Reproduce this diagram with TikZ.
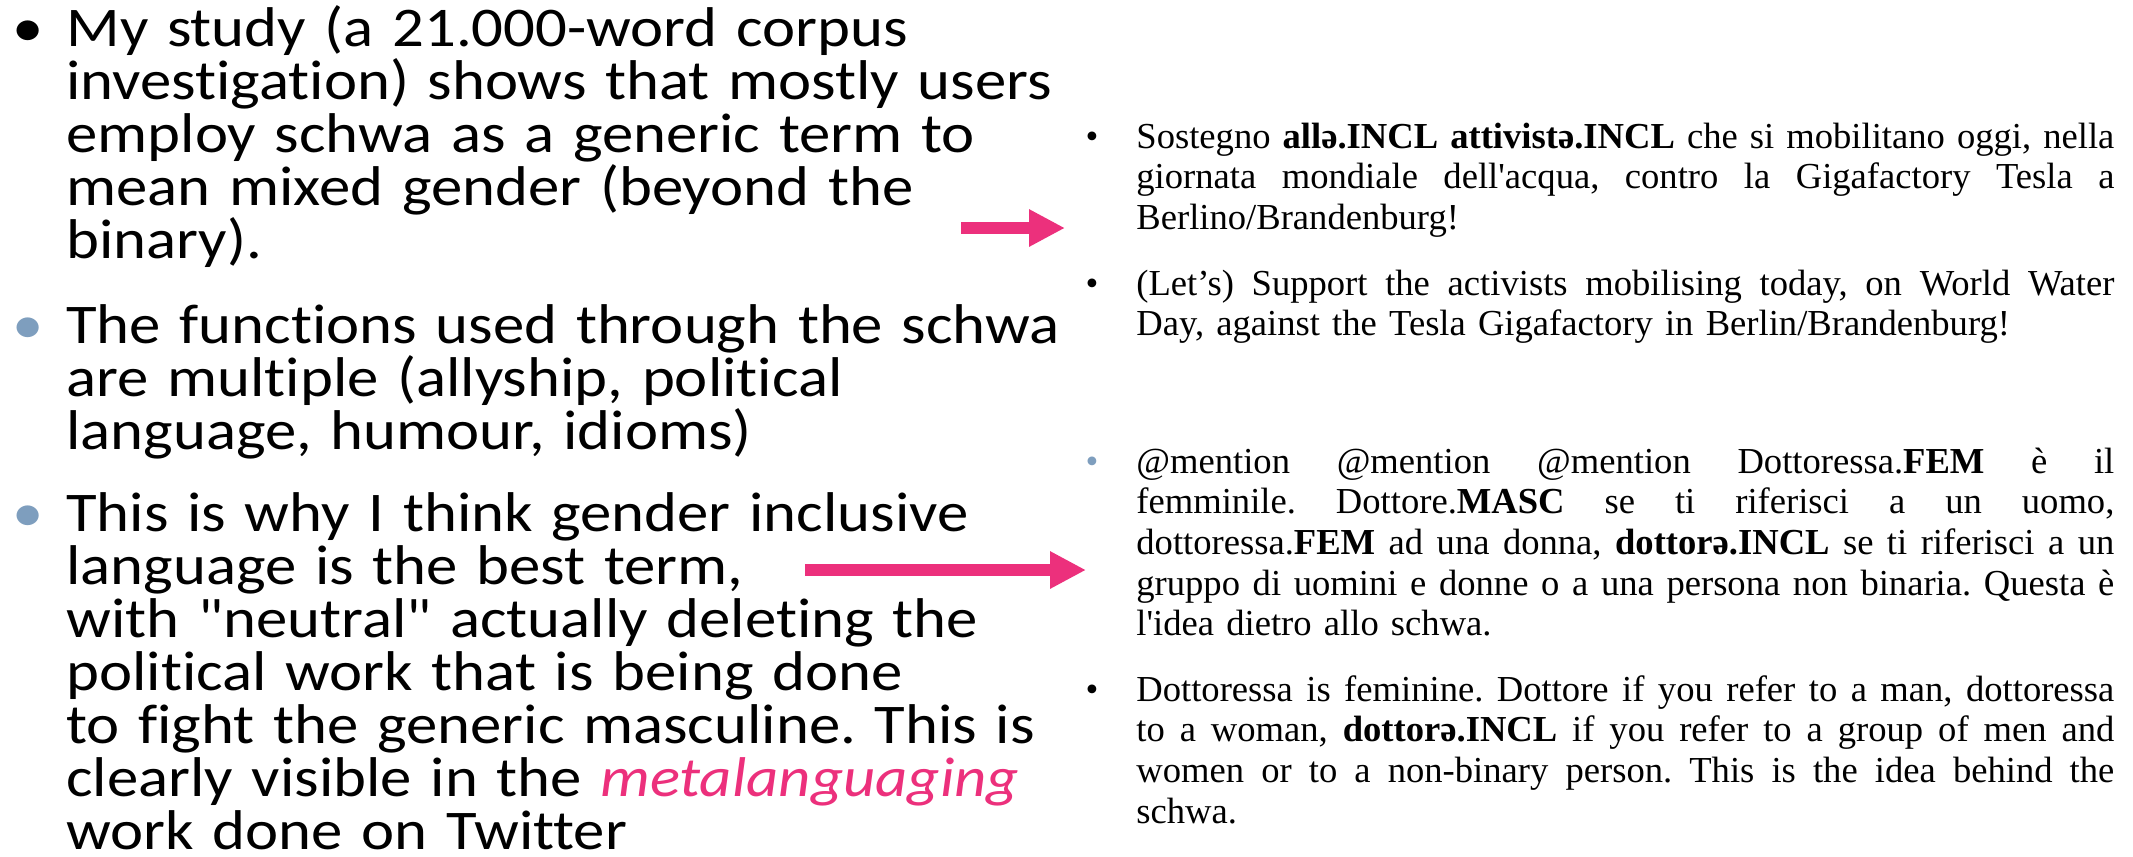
\documentclass[tikz,border=0pt]{standalone}
\usepackage{fontspec}
\setmainfont{Liberation Serif}
\newfontfamily\slidefont[Ligatures=NoCommon,FakeStretch=1.12]{Carlito}
\usetikzlibrary{arrows.meta, positioning}
\definecolor{accentpink}{RGB}{236,48,124}
\definecolor{bulletblue}{RGB}{126,158,190}
\setlength{\lineskiplimit}{-100pt}
\newlength{\tweetwidth}
\setlength{\tweetwidth}{489pt}
% one full justified line of a tweet
\newcommand{\jline}[1]{\hbox to \tweetwidth{\spaceskip=.25em plus 3em minus .08em\relax #1}}
\frenchspacing

\begin{document}
\begin{tikzpicture}[x=0.5pt,y=0.5pt,yscale=-1,
    slidetext/.style={anchor=base west, inner sep=0pt, text width=560pt, font=\slidefont\fontsize{28pt}{26.5pt}\selectfont},
    slidebullet/.style={anchor=base, inner sep=0pt, font=\slidefont\fontsize{28pt}{26.5pt}\selectfont},
    tweettext/.style={anchor=base west, inner sep=0pt, text width=\tweetwidth, font=\fontsize{18.3pt}{20.35pt}\selectfont},
    tweetbullet/.style={anchor=base, inner sep=0pt, font=\fontsize{18.3pt}{20.35pt}\selectfont},
    pinkarrow/.style={draw=accentpink, line width=6pt, -{Triangle[length=18pt,width=17.5pt]}}]
  %set diagram as 2133 x 857
  \fill [white] (0,0) rectangle (2133,857);
  \useasboundingbox (0,0) rectangle (2133,857);

  % Bullets left
  \draw (28,46) node [slidebullet] (bulone) {•};
  \draw (28,343) node [slidebullet,text=bulletblue] (bultwo) {•};
  \draw (28,531) node [slidebullet,text=bulletblue] (bulthree) {•};

  % Text Node
  \draw (66,46) node [slidetext] (study) {My study (a 21.000-word corpus\\
    investigation) shows that mostly users\\
    employ schwa as a generic term to\\
    mean mixed gender (beyond the\\
    binary).};
  % Text Node
  \draw (66,343) node [slidetext] (functions) {The functions used through the schwa\\
    are multiple (allyship, political\\
    language, humour, idioms)};
  % Text Node
  \draw (66,531) node [slidetext] (inclusive) {This is why I think gender inclusive\\
    language is the best term,\\
    with "neutral" actually deleting the\\
    political work that is being done\\
    to fight the generic masculine. This is\\
    clearly visible in the \textcolor{accentpink}{\itshape metalanguaging}\\
    work done on Twitter};

  % Bullets right
  \draw (1092,148) node [tweetbullet] (tbulone) {•};
  \draw (1092,295) node [tweetbullet] (tbultwo) {•};
  \draw (1092,473) node [tweetbullet,text=bulletblue] (tbulthree) {•};
  \draw (1092,701) node [tweetbullet] (tbulfour) {•};

  % Text Node
  \draw (1136,148) node [tweettext] (sostegno) {\jline{Sostegno \textbf{allə.INCL attivistə.INCL} che si mobilitano oggi, nella}
    \jline{giornata mondiale dell\textquotesingle acqua, contro la Gigafactory Tesla a}
    Berlino/Brandenburg!};
  % Text Node
  \draw (1136,295) node [tweettext] (support) {\jline{(Let’s) Support the activists mobilising today, on World Water}
    Day, against the Tesla Gigafactory in Berlin/Brandenburg!};
  % Text Node
  \draw (1136,473) node [tweettext] (mention) {\jline{@mention @mention @mention Dottoressa.\textbf{FEM} è il}
    \jline{femminile. Dottore.\textbf{MASC} se ti riferisci a un uomo,}
    \jline{dottoressa.\textbf{FEM} ad una donna, \textbf{dottorə.INCL} se ti riferisci a un}
    \jline{gruppo di uomini e donne o a una persona non binaria. Questa è}
    l\textquotesingle idea dietro allo schwa.};
  % Text Node
  \draw (1136,701) node [tweettext] (feminine) {\jline{Dottoressa is feminine. Dottore if you refer to a man, dottoressa}
    \jline{to a woman, \textbf{dottorə.INCL} if you refer to a group of men and}
    \jline{women or to a non-binary person. This is the idea behind the}
    schwa.};

  % Arrows
  \coordinate (arrowonestart) at (961,228);
  \coordinate (arrowoneend) at (1065,228);
  \coordinate (arrowtwostart) at (805,570);
  \coordinate (arrowtwoend) at (1086,570);
  \draw [pinkarrow] (arrowonestart) -- (arrowoneend);
  \draw [pinkarrow] (arrowtwostart) -- (arrowtwoend);

\end{tikzpicture}
\end{document}
